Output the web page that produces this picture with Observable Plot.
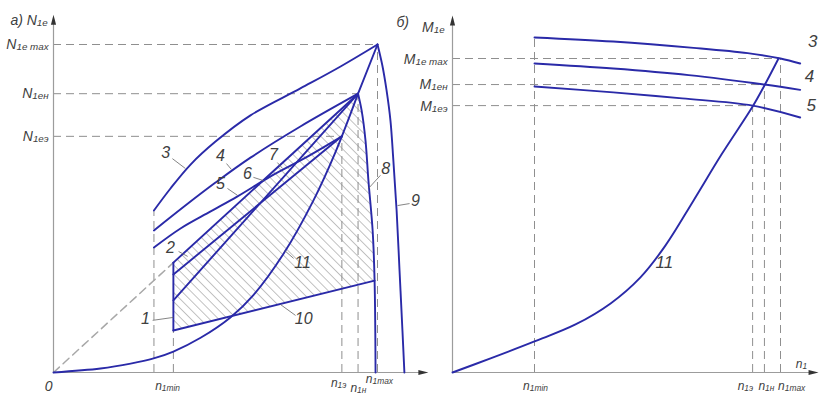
<!DOCTYPE html>
<html><head><meta charset="utf-8">
<script src="https://cdn.jsdelivr.net/npm/d3@7"></script>
<script src="https://cdn.jsdelivr.net/npm/@observablehq/plot@0.6"></script>
<style>
body{margin:0;background:#fff;}
#wrap{position:relative;width:819px;height:395px;background:#fff;}
#wrap svg{position:absolute;left:0;top:0;}
</style></head><body><div id="wrap"></div>
<script>
// ---------- LEFT PANEL (а): N1e vs n1, units: n1max = 1, N1e max = 1 ----------
const curve3L = [[0.31,0.494],[0.361,0.561],[0.423,0.634],[0.5,0.704],[0.608,0.784],[0.762,0.866],[0.886,0.933],[1,1]];
const curve4L = [[0.31,0.433],[0.407,0.509],[0.5,0.579],[0.608,0.655],[0.762,0.75],[0.94,0.85]];
const curve5L = [[0.31,0.381],[0.392,0.439],[0.485,0.491],[0.568,0.537],[0.67,0.598],[0.778,0.655],[0.89,0.72]];
const line1L = [[0.37,0.335],[0.37,0.128]];
const line2DashL = [[0,0],[0.37,0.335]];
const line2L = [[0.37,0.335],[0.94,0.85]];
const line6L = [[0.37,0.299],[0.89,0.72]];
const line7L = [[0.37,0.22],[0.94,0.85]];
const line10L = [[0.37,0.128],[0.991,0.28]];
const curve8L = [[0.94,0.85],[0.951,0.799],[0.963,0.707],[0.972,0.585],[0.985,0.433],[0.991,0.28],[0.994,0]];
const link8L = [[0.94,0.85],[1,1]];
const curve9L = [[1,1],[1.015,0.936],[1.028,0.86],[1.04,0.768],[1.049,0.646],[1.059,0.494],[1.068,0.311],[1.077,0.128],[1.083,0]];
const curve11L = [[0,0],[0.145,0.012],[0.238,0.027],[0.309,0.043],[0.37,0.064],[0.454,0.106],[0.546,0.168],[0.617,0.236],[0.71,0.362],[0.802,0.524],[0.87,0.671],[0.94,0.85]];
const zoneL = [[0.37,0.335],[0.94,0.85],[0.951,0.799],[0.963,0.707],[0.972,0.585],[0.985,0.433],[0.991,0.28],[0.37,0.128]];
const hDashL = [{N:1,n:1},{N:0.85,n:0.94},{N:0.72,n:0.89}];
const vDashL = [{n:0.31,N:0.494},{n:0.37,N:0.128},{n:0.89,N:0.72},{n:0.94,N:0.85},{n:1,N:1}];
const numLabelsL = [
  {n:0.346,N:0.671,label:"3"},{n:0.515,N:0.659,label:"4"},{n:0.515,N:0.576,label:"5"},
  {n:0.599,N:0.607,label:"6"},{n:0.679,N:0.662,label:"7"},{n:0.361,N:0.381,label:"2"},
  {n:0.284,N:0.165,label:"1"},{n:0.769,N:0.335,label:"11"},{n:0.772,N:0.165,label:"10"},
  {n:1.025,N:0.622,label:"8"},{n:1.117,N:0.524,label:"9"}];
const leadersL = [
  {x1:0.367,y1:0.652,x2:0.407,y2:0.622},{x1:0.534,y1:0.637,x2:0.549,y2:0.619},
  {x1:0.537,y1:0.561,x2:0.568,y2:0.540},{x1:0.617,y1:0.595,x2:0.648,y2:0.585},
  {x1:0.691,y1:0.640,x2:0.707,y2:0.622},{x1:0.386,y1:0.369,x2:0.414,y2:0.354},
  {x1:0.306,y1:0.159,x2:0.37,y2:0.168},{x1:0.741,y1:0.348,x2:0.713,y2:0.372},
  {x1:0.747,y1:0.174,x2:0.701,y2:0.207},{x1:1.009,y1:0.601,x2:0.972,y2:0.561},
  {x1:1.099,y1:0.515,x2:1.062,y2:0.509}];
const yTicksL = [{n:-0.015,N:1,label:"N_1e max"},{n:-0.015,N:0.85,label:"N_1eн"},{n:-0.015,N:0.72,label:"N_1eэ"}];
const titleL = [{n:-0.133,N:1.072,label:"а) N_1e"}];
const xTicksL = [{n:0.352,N:-0.043,label:"n_1min"},{n:0.880,N:-0.032,label:"n_1э"},{n:0.941,N:-0.047,label:"n_1н"},{n:1.006,N:-0.021,label:"n_1max"}];
const originL = [{n:-0.015,N:-0.043,label:"0"}];

// ---------- RIGHT PANEL (б): M1e vs n1, units: n1max = 1, M1e max = 1 ----------
const curve3R = [[0.25,1.067],[0.49,1.054],[0.735,1.034],[0.9,1.017],[1,1],[1.06,0.984]];
const curve4R = [[0.25,0.984],[0.49,0.968],[0.72,0.947],[0.951,0.917],[1.06,0.9]];
const curve5R = [[0.25,0.911],[0.49,0.892],[0.7,0.873],[0.915,0.85],[1.06,0.812]];
const curve11R = [[0,0],[0.116,0.045],[0.25,0.099],[0.375,0.153],[0.482,0.22],[0.573,0.303],[0.649,0.404],[0.735,0.548],[0.82,0.694],[0.915,0.847],[0.951,0.914],[0.994,1.0]];
const hDashR = [{M:1,n:1},{M:0.917,n:0.951},{M:0.85,n:0.915}];
const vDashR = [{n:0.25,M:1.067},{n:0.915,M:0.85},{n:0.951,M:0.917},{n:1,M:1}];
const numLabelsR = [{n:1.098,M:1.054,label:"3"},{n:1.088,M:0.943,label:"4"},{n:1.094,M:0.850,label:"5"},{n:0.646,M:0.350,label:"11"}];
const yTicksR = [{n:-0.015,M:0.997,label:"M_1e max"},{n:-0.015,M:0.916,label:"M_1eн"},{n:-0.015,M:0.847,label:"M_1eэ"},{n:-0.024,M:1.099,label:"M_1e"}];
const titleR = [{n:-0.152,M:1.115,label:"б)"}];
const xTicksR = [{n:0.253,M:-0.045,label:"n_1min"},{n:0.893,M:-0.045,label:"n_1э"},{n:0.957,M:-0.045,label:"n_1н"},{n:1.034,M:-0.045,label:"n_1max"},{n:1.064,M:0.025,label:"n_1"}];

// ---------- styles ----------
const BLUE = "#2a2aa8", DASH = "#8f8f8f", AX = "#9c9c9c", TXT = "#404040";
const FONT = "'Liberation Sans Narrow','Liberation Sans','DejaVu Sans',sans-serif";
const arrowUp = {draw(c){c.moveTo(0,0);c.lineTo(2.6,10);c.lineTo(-2.6,10);c.closePath();}};
const arrowRight = {draw(c){c.moveTo(0,0);c.lineTo(-10,2.6);c.lineTo(-10,-2.6);c.closePath();}};
const curveStyle = {stroke: BLUE, strokeWidth: 1.9, curve: "catmull-rom"};
const straight = {stroke: BLUE, strokeWidth: 1.9};
const txt = (size, anchor="middle") => ({fontSize: size, fontStyle: "italic", fontFamily: FONT, fill: TXT, textAnchor: anchor});

const left = Plot.plot({
  width: 819, height: 395,
  x: {domain: [0, 1], range: [53, 377], axis: null},
  y: {domain: [0, 1], range: [372, 44], axis: null},
  style: {background: "none", overflow: "visible"},
  marks: [
    Plot.line(zoneL, {fill: "url(#hatchL)", stroke: "none"}),
    Plot.ruleY(hDashL, {y: "N", x1: 0, x2: "n", stroke: DASH, strokeDasharray: "8,5"}),
    Plot.ruleX(vDashL, {x: "n", y1: 0, y2: "N", stroke: DASH, strokeDasharray: "8,5"}),
    Plot.line(line2DashL, {stroke: "#a8a8a8", strokeDasharray: "8,5"}),
    Plot.ruleX([0], {y1: 0, y2: 1.07, stroke: AX, strokeWidth: 1.2}),
    Plot.ruleY([0], {x1: 0, x2: 1.14, stroke: AX, strokeWidth: 1.2}),
    Plot.dot([[0, 1.091]], {symbol: arrowUp, fill: "#333", stroke: "none"}),
    Plot.dot([[1.157, 0]], {symbol: arrowRight, fill: "#333", stroke: "none"}),
    Plot.line(curve3L, curveStyle),
    Plot.line(curve4L, curveStyle),
    Plot.line(curve5L, curveStyle),
    Plot.line(curve11L, curveStyle),
    Plot.line(curve8L, curveStyle),
    Plot.line(curve9L, curveStyle),
    Plot.line(link8L, straight),
    Plot.line(line1L, straight),
    Plot.line(line2L, straight),
    Plot.line(line6L, straight),
    Plot.line(line7L, straight),
    Plot.line(line10L, straight),
    Plot.link(leadersL, {x1: "x1", y1: "y1", x2: "x2", y2: "y2", stroke: "#666", strokeWidth: 0.8}),
    Plot.text(numLabelsL, {x: "n", y: "N", text: "label", ...txt(16)}),
    Plot.text(yTicksL, {x: "n", y: "N", text: "label", ...txt(14, "end")}),
    Plot.text(titleL, {x: "n", y: "N", text: "label", ...txt(14, "start")}),
    Plot.text(xTicksL, {x: "n", y: "N", text: "label", ...txt(12)}),
    Plot.text(originL, {x: "n", y: "N", text: "label", ...txt(14)})
  ]
});

const right = Plot.plot({
  width: 819, height: 395,
  x: {domain: [0, 1], range: [452, 780], axis: null},
  y: {domain: [0, 1], range: [372, 58], axis: null},
  style: {background: "none", overflow: "visible"},
  marks: [
    Plot.ruleY(hDashR, {y: "M", x1: 0, x2: "n", stroke: DASH, strokeDasharray: "8,5"}),
    Plot.ruleX(vDashR, {x: "n", y1: 0, y2: "M", stroke: DASH, strokeDasharray: "8,5"}),
    Plot.ruleX([0], {y1: 0, y2: 1.11, stroke: AX, strokeWidth: 1.2}),
    Plot.ruleY([0], {x1: 0, x2: 1.09, stroke: AX, strokeWidth: 1.2}),
    Plot.dot([[0, 1.137]], {symbol: arrowUp, fill: "#333", stroke: "none"}),
    Plot.dot([[1.116, 0]], {symbol: arrowRight, fill: "#333", stroke: "none"}),
    Plot.line(curve3R, curveStyle),
    Plot.line(curve4R, curveStyle),
    Plot.line(curve5R, curveStyle),
    Plot.line(curve11R, curveStyle),
    Plot.text(numLabelsR, {x: "n", y: "M", text: "label", ...txt(17)}),
    Plot.text(yTicksR, {x: "n", y: "M", text: "label", ...txt(14, "end")}),
    Plot.text(titleR, {x: "n", y: "M", text: "label", ...txt(14)}),
    Plot.text(xTicksR, {x: "n", y: "M", text: "label", ...txt(12)})
  ]
});

// hatch pattern for the working zone
const NS = "http://www.w3.org/2000/svg";
const defs = document.createElementNS(NS, "defs");
defs.innerHTML = '<pattern id="hatchL" patternUnits="userSpaceOnUse" width="6.5" height="6.5" patternTransform="rotate(-45)"><line x1="0" y1="0" x2="0" y2="6.5" stroke="#858585" stroke-width="1"/></pattern>';
left.insertBefore(defs, left.firstChild);

// subscripts: "N_1e max" -> N + small "1e max"
function subify(svg) {
  svg.querySelectorAll("text").forEach(t => {
    const s = t.textContent;
    const i = s.indexOf("_");
    if (i < 0) return;
    t.textContent = "";
    const a = document.createElementNS(NS, "tspan");
    a.textContent = s.slice(0, i);
    const b = document.createElementNS(NS, "tspan");
    b.textContent = s.slice(i + 1);
    b.setAttribute("font-size", "0.7em");
    b.setAttribute("dy", "0.1em");
    t.appendChild(a); t.appendChild(b);
  });
}
subify(left); subify(right);

const wrap = document.getElementById("wrap");
wrap.appendChild(left);
wrap.appendChild(right);
</script>
</body></html>
